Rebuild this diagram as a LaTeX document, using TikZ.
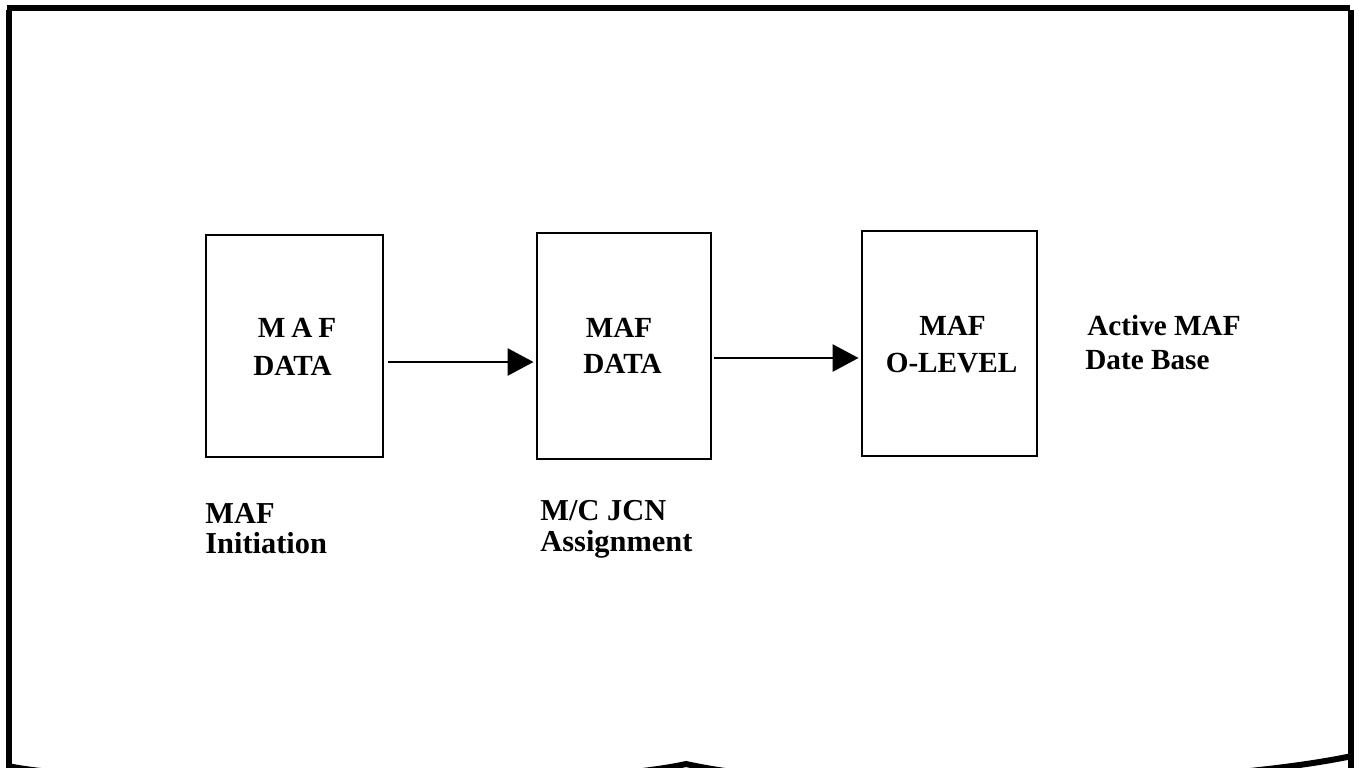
\documentclass[tikz,border=0pt]{standalone}
\usepackage{fontspec}
\setmainfont{Liberation Serif}
\usetikzlibrary{arrows.meta}
\begin{document}
\begin{tikzpicture}[x=0.5pt,y=-0.5pt,
  frame/.style={line width=3pt},
  box/.style={draw,line width=1.45pt,inner sep=0pt},
  flow/.style={line width=1.4pt,-{Triangle[length=13pt,width=13.5pt]}},
  boxtxt/.style={inner sep=0pt,anchor=base,font=\fontsize{14.6pt}{19pt}\selectfont\bfseries},
  lbl/.style={inner sep=0pt,anchor=base west,font=\fontsize{15.2pt}{15pt}\selectfont\bfseries},
  side/.style={inner sep=0pt,anchor=base west,font=\fontsize{14.6pt}{17pt}\selectfont\bfseries}]
\useasboundingbox (0,0) rectangle (1359,767);
\clip (0,0) rectangle (1359,767);
\fill[white] (0,0) rectangle (1359,767);
% outer document frame
\draw[frame] (7,8) -- (1350,8);
\draw[frame] (8.5,10) -- (8.5,775);
\draw[frame] (1351,10) -- (1351,775);
\draw[frame] (8,766) .. controls (100,786) and (560,792) .. (686,764)
              .. controls (830,796) and (1200,788) .. (1352,756);
% boxes
\node[box,minimum width=88.5pt,minimum height=111pt] (b1) at (294.5,346) {};
\node[box,minimum width=87pt,minimum height=113pt] (b2) at (624,346) {};
\node[box,minimum width=87.5pt,minimum height=112.5pt] (b3) at (949.5,343.5) {};
% box texts
\node[boxtxt] (t1a) at (297,337) {M\hspace{3pt}A\hspace{3pt}F};
\node[boxtxt] (t1b) at (292.5,375) {DATA};
\node[boxtxt] (t2a) at (619,337) {MAF};
\node[boxtxt] (t2b) at (622.5,373) {DATA};
\node[boxtxt] (t3a) at (952.5,335) {MAF};
\node[boxtxt] (t3b) at (951.5,372) {O-LEVEL};
% side labels
\node[side] (s1) at (1087,335) {Active MAF};
\node[side] (s2) at (1085,369) {Date Base};
\node[lbl] (l1a) at (205,523) {MAF};
\node[lbl] (l1b) at (205,553) {Initiation};
\node[lbl] (l2a) at (540,520) {M/C JCN};
\node[lbl] (l2b) at (540,551) {Assignment};
% connectors
\coordinate (a1) at (0,362);
\coordinate (a2) at (0,358);
\draw[flow] ([xshift=2pt]b1.east |- a1) -- ([xshift=-1pt]b2.west |- a1);
\draw[flow] ([xshift=1pt]b2.east |- a2) -- ([xshift=-1pt]b3.west |- a2);
\end{tikzpicture}
\end{document}
